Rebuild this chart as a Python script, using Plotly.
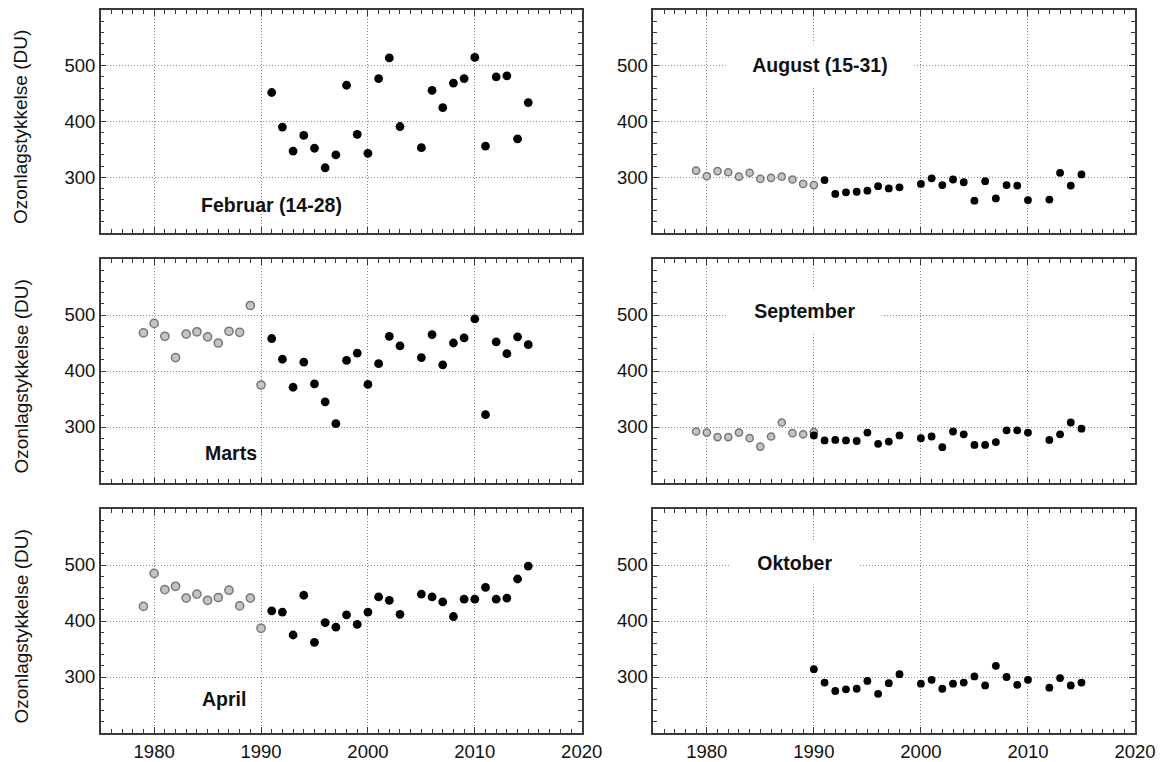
import plotly.graph_objects as go

# ---------------- data ----------------
gray_years = list(range(1979, 1991))

feb_years = list(range(1991, 2004)) + list(range(2005, 2016))
feb_vals = [452, 390, 347, 375, 352, 317, 340, 465, 377, 343, 477, 514, 391,
            353, 456, 425, 469, 477, 515, 356, 480, 482, 369, 434]

mar_gray = [468, 485, 462, 424, 466, 470, 461, 450, 471, 469, 517, 375]
mar_years = list(range(1991, 2004)) + list(range(2005, 2016))
mar_vals = [458, 421, 371, 416, 377, 345, 306, 419, 432, 376, 413, 462, 445,
            424, 465, 411, 450, 459, 493, 322, 452, 431, 461, 447]

apr_gray = [426, 485, 456, 462, 441, 448, 437, 442, 455, 427, 441, 387]
apr_years = list(range(1991, 2004)) + list(range(2005, 2016))
apr_vals = [418, 416, 375, 446, 362, 397, 389, 411, 394, 416, 443, 437, 412,
            448, 443, 434, 408, 439, 439, 460, 439, 441, 475, 498]

aug_gray = [312, 302, 311, 309, 301, 308, 297, 299, 301, 296, 288, 286]
aug_years = list(range(1991, 1999)) + list(range(2000, 2011)) + list(range(2012, 2016))
aug_vals = [295, 270, 273, 274, 276, 284, 280, 282,
            288, 298, 286, 296, 291, 258, 293, 262, 286, 285, 259,
            260, 308, 285, 305]

sep_gray = [292, 290, 282, 282, 290, 280, 265, 283, 308, 289, 287, 291]
sep_years = list(range(1990, 1999)) + list(range(2000, 2011)) + list(range(2012, 2016))
sep_vals = [285, 276, 277, 276, 275, 290, 270, 274, 285,
            280, 283, 264, 292, 287, 268, 268, 273, 294, 294, 290,
            277, 287, 308, 297]

okt_years = list(range(1990, 1999)) + list(range(2000, 2011)) + list(range(2012, 2016))
okt_vals = [314, 290, 275, 278, 279, 293, 270, 289, 305,
            288, 295, 279, 288, 290, 301, 285, 320, 300, 286, 295,
            281, 298, 285, 290]

x_ticks = [1980, 1990, 2000, 2010, 2020]
y_ticks = [300, 400, 500]
y_title = "Ozonlagstykkelse (DU)"

panels = [
    # (label, gray values, black years, black values, label x, label y, boxed, column)
    ("Februar (14-28)", None, feb_years, feb_vals, 1991.0, 250, False, 0),
    ("August (15-31)", aug_gray, aug_years, aug_vals, 1990.6, 502, True, 1),
    ("Marts", mar_gray, mar_years, mar_vals, 1987.2, 253, False, 0),
    ("September", sep_gray, sep_years, sep_vals, 1989.1, 507, True, 1),
    ("April", apr_gray, apr_years, apr_vals, 1986.5, 261, False, 0),
    ("Oktober", None, okt_years, okt_vals, 1988.2, 503, True, 1),
]

# the page body has an 8px margin: figure pixel = screen pixel - 8
OFF = 8
W, H = 1171 - OFF, 762 - OFF
col_px = [(100.7, 581.7), (653.3, 1135.0)]
row_px = [(10, 233), (259, 483), (509, 733)]
col_dom = [[(l - OFF) / W, (r - OFF) / W] for l, r in col_px]
row_dom = [[1 - (b - OFF) / H, 1 - (t - OFF) / H] for t, b in row_px]

FONT = "Liberation Sans, Arial, sans-serif"
fig = go.Figure()
layout = {}
annotations = []

for i, (label, gvals, byears, bvals, lx, ly, boxed, col) in enumerate(panels):
    row = i // 2
    n = i + 1
    xa = "x" if n == 1 else f"x{n}"
    ya = "y" if n == 1 else f"y{n}"
    msize = 8.8 if col == 0 else 7.8
    if gvals is not None:
        fig.add_trace(go.Scatter(
            x=gray_years, y=gvals, mode="markers", xaxis=xa, yaxis=ya,
            marker=dict(size=msize - 0.6, color="#c4c4c4",
                        line=dict(color="#777777", width=1.5)),
            showlegend=False, hoverinfo="x+y"))
    fig.add_trace(go.Scatter(
        x=byears, y=bvals, mode="markers", xaxis=xa, yaxis=ya,
        marker=dict(size=msize, color="#000000", line=dict(width=0)),
        showlegend=False, hoverinfo="x+y"))

    common = dict(
        showline=True, linecolor="#3a3a3a", linewidth=1.5, mirror="allticks",
        ticks="inside", ticklen=6, tickwidth=1.2, tickcolor="#3a3a3a",
        showgrid=True, gridcolor="#8a8a8a", gridwidth=1, griddash="1px,2px",
        zeroline=False, automargin=False,
        tickfont=dict(family=FONT, size=18.5, color="#111111"),
    )
    xkey = "xaxis" if n == 1 else f"xaxis{n}"
    ykey = "yaxis" if n == 1 else f"yaxis{n}"
    layout[xkey] = dict(
        common, domain=col_dom[col], anchor=ya, range=[1975, 2020],
        tickmode="array", tickvals=x_ticks, showticklabels=(row == 2),
        ticklabelstandoff=1,
        minor=dict(tickmode="linear", tick0=1975, dtick=1, ticks="inside",
                   ticklen=4, tickwidth=1, tickcolor="#3a3a3a", showgrid=False),
    )
    layout[ykey] = dict(
        common, domain=row_dom[row], anchor=xa, range=[200, 600],
        tickmode="array", tickvals=y_ticks,
        minor=dict(tickmode="linear", tick0=200, dtick=20, ticks="inside",
                   ticklen=4, tickwidth=1, tickcolor="#3a3a3a", showgrid=False),
    )

    pad = "\u00a0\u00a0\u00a0" if boxed else ""
    annotations.append(dict(
        x=lx, y=ly, xref=xa, yref=ya, showarrow=False,
        text=f"{pad}<b>{label}</b>{pad}",
        font=dict(family=FONT, size=19.5, color="#111111"),
        bgcolor="#ffffff" if boxed else "rgba(0,0,0,0)",
        borderpad=10 if boxed else 0,
        xanchor="center", yanchor="middle",
    ))

    if col == 0:
        t, b = row_px[row]
        annotations.append(dict(
            x=(20.5 - OFF) / W, y=1 - ((t + b) / 2 + 6 - OFF) / H,
            xref="paper", yref="paper",
            text=y_title, textangle=-90, showarrow=False,
            font=dict(family=FONT, size=19, color="#111111"),
            xanchor="center", yanchor="middle",
        ))

fig.update_layout(
    width=W, height=H,
    margin=dict(l=0, r=0, t=0, b=0),
    paper_bgcolor="#ffffff", plot_bgcolor="#ffffff",
    template="none",
    showlegend=False,
    annotations=annotations,
    **layout,
)

fig.write_html("out.html")
